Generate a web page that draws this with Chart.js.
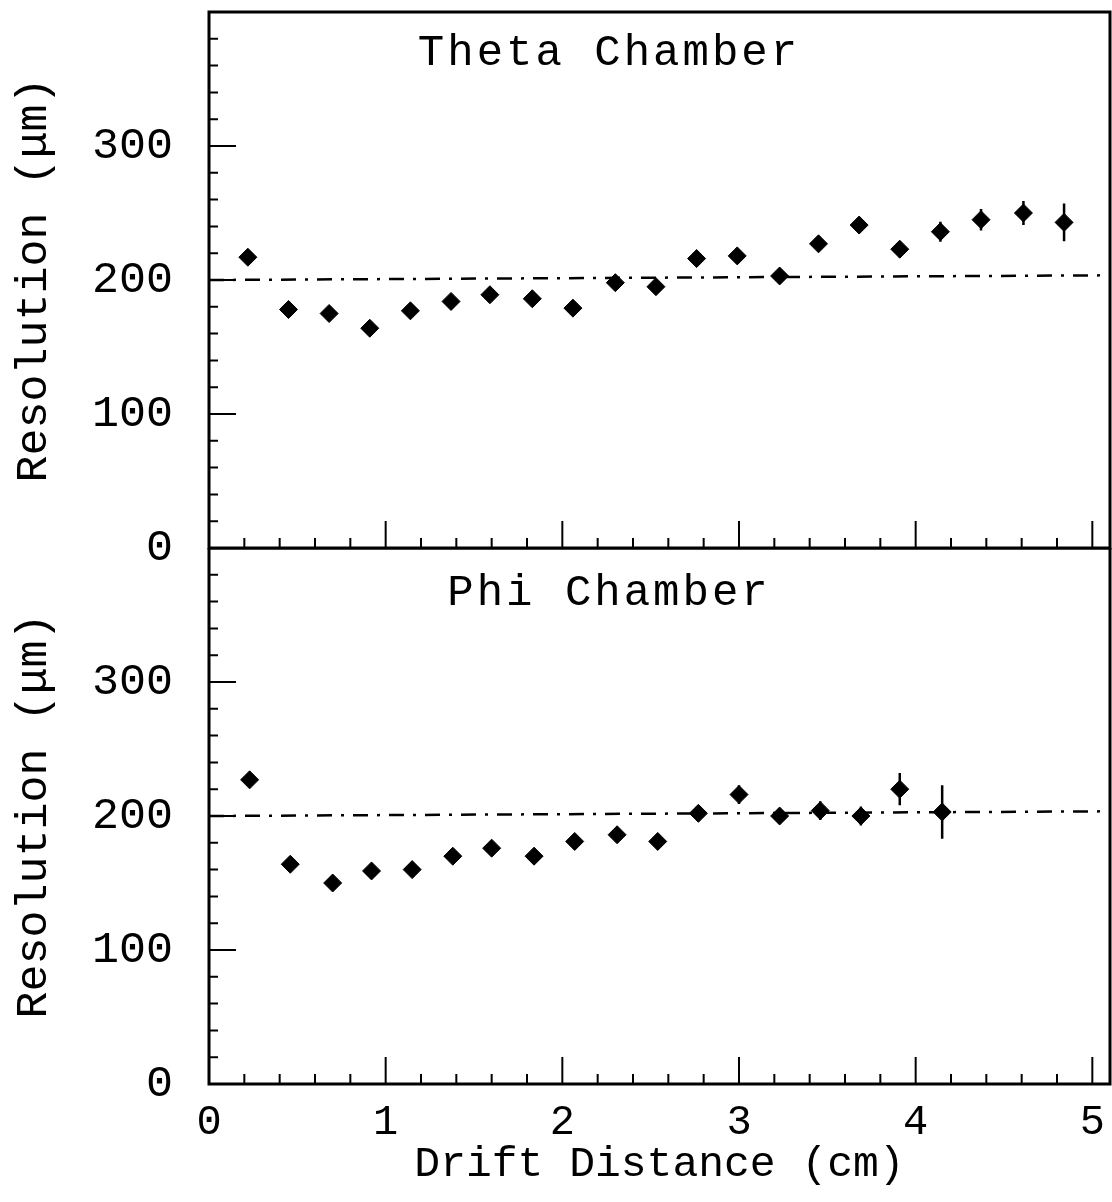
<!DOCTYPE html>
<html>
<head>
<meta charset="utf-8">
<script src="https://cdn.jsdelivr.net/npm/chart.js@4.4.1/dist/chart.umd.min.js"></script>
<style>
  html, body { margin: 0; padding: 0; background: #fff; }
  #wrap { position: relative; width: 1112px; height: 1202px; }
  #thetaChart { position: absolute; left: 0; top: 0; }
  #phiChart { position: absolute; left: 0; top: 548px; }
</style>
</head>
<body>
<div id="wrap">
  <canvas id="thetaChart" width="1112" height="580"></canvas>
  <canvas id="phiChart" width="1112" height="654"></canvas>
</div>
<script>
// axis ticks
const xTickValues = [0, 1, 2, 3, 4, 5];
const xTickLabels = ['0', '1', '2', '3', '4', '5'];
const yTickValues = [0, 100, 200, 300];
const yTickLabels = ['0', '100', '200', '300'];

// Theta chamber: drift distance (cm), resolution (um), error (um)
const thetaX = [0.22, 0.45, 0.68, 0.91, 1.14, 1.37, 1.59, 1.83, 2.06, 2.30, 2.53, 2.76, 2.99, 3.23, 3.45, 3.68, 3.91, 4.14, 4.37, 4.61, 4.84];
const thetaY = [217, 178, 175, 164, 177, 184, 189, 186, 179, 198, 195, 216, 218, 203, 227, 241, 223, 236, 245, 250, 243];
const thetaErr = [5, 5, 5, 5, 5, 5, 5, 5, 5, 5, 5, 5, 5, 5, 5, 6, 6, 7.5, 8, 9, 14];

// Phi chamber
const phiX = [0.23, 0.46, 0.70, 0.92, 1.15, 1.38, 1.60, 1.84, 2.07, 2.31, 2.54, 2.77, 3.00, 3.23, 3.46, 3.69, 3.91, 4.15];
const phiY = [227, 164, 150, 159, 160, 170, 176, 170, 181, 186, 181, 202, 216, 200, 204, 200, 220, 203];
const phiErr = [5, 5, 5, 5, 5, 5, 5, 5, 5, 5, 5, 5, 7, 5, 7, 7, 12, 20];

// dash-dot reference line
const fitX = [0, 5.1];
const thetaFitY = [200, 203.5];
const phiFitY = [200, 203.5];

Chart.defaults.font.family = "'Liberation Mono', monospace";
Chart.defaults.color = '#000';

// frame, inside ticks and the panel label
const frameTicks = {
  id: 'frameTicks',
  afterDraw(chart, args, opts) {
    const { ctx, chartArea: a } = chart;
    const x = chart.scales.x;
    const y = chart.scales.y;
    ctx.save();
    ctx.strokeStyle = '#000';
    ctx.lineWidth = 2;
    ctx.beginPath();
    for (let i = 0; i <= 25; i++) {
      const px = x.getPixelForValue(i * 0.2);
      const len = i % 5 === 0 ? 27 : 10;
      ctx.moveTo(px, a.bottom);
      ctx.lineTo(px, a.bottom - len);
    }
    for (let i = 0; i <= 20; i++) {
      const py = y.getPixelForValue(i * 20);
      const len = i % 5 === 0 ? 27 : 9;
      ctx.moveTo(a.left, py);
      ctx.lineTo(a.left + len, py);
    }
    ctx.stroke();
    ctx.lineWidth = 3;
    ctx.strokeRect(a.left, a.top, a.right - a.left, a.bottom - a.top);

    ctx.fillStyle = '#000';
    ctx.font = "44px 'Liberation Mono', monospace";
    ctx.letterSpacing = '3px';
    ctx.textAlign = 'center';
    ctx.textBaseline = 'alphabetic';
    ctx.fillText(opts.label, a.left + 400, a.top + opts.baseline);
    ctx.letterSpacing = '0px';
    ctx.restore();
  }
};

const errorBars = {
  id: 'errorBars',
  afterDatasetsDraw(chart, args, opts) {
    const { ctx } = chart;
    const y = chart.scales.y;
    const meta = chart.getDatasetMeta(0);
    const pts = chart.data.datasets[0].data;
    ctx.save();
    ctx.strokeStyle = '#000';
    ctx.lineWidth = 2.5;
    ctx.beginPath();
    meta.data.forEach((el, i) => {
      const v = pts[i].y;
      const e = opts.errors[i];
      ctx.moveTo(el.x, y.getPixelForValue(v + e));
      ctx.lineTo(el.x, y.getPixelForValue(v - e));
    });
    ctx.stroke();
    ctx.restore();
  }
};

function makePanel(id, label, baseline, xs, ys, errs, fitY, bottomAxis) {
  const points = xs.map((v, i) => ({ x: v, y: ys[i] }));
  const fit = fitX.map((v, i) => ({ x: v, y: fitY[i] }));

  return new Chart(document.getElementById(id), {
    type: 'scatter',
    data: {
      datasets: [
        {
          data: points,
          pointStyle: 'rectRot',
          pointRadius: 9,
          pointBackgroundColor: '#000',
          pointBorderColor: '#000',
          pointBorderWidth: 1,
          order: 0
        },
        {
          data: fit,
          showLine: true,
          borderColor: '#000',
          borderWidth: 2.5,
          borderDash: [15, 9, 3, 9],
          pointRadius: 0,
          order: 1
        }
      ]
    },
    options: {
      responsive: false,
      animation: false,
      devicePixelRatio: 1,
      layout: {
        autoPadding: false,
        padding: { top: bottomAxis ? 0 : 12, right: 2, left: 0, bottom: 0 }
      },
      plugins: {
        legend: { display: false },
        tooltip: { enabled: false },
        frameTicks: { label: label, baseline: baseline },
        errorBars: { errors: errs }
      },
      scales: {
        x: {
          type: 'linear',
          min: 0,
          max: 5.1,
          afterBuildTicks: (s) => { s.ticks = xTickValues.map((v) => ({ value: v })); },
          ticks: {
            display: bottomAxis,
            callback: (v) => xTickLabels[xTickValues.indexOf(v)],
            padding: 14,
            maxRotation: 0,
            font: { size: 42 }
          },
          grid: { display: false, drawTicks: false },
          border: { display: false },
          title: {
            display: bottomAxis,
            text: 'Drift Distance (cm)',
            font: { size: 43 },
            padding: { top: 0, bottom: 12 }
          },
          afterFit: (s) => {
            s.height = bottomAxis ? 118 : 32;
            s.paddingLeft = 0;
            s.paddingRight = 0;
          }
        },
        y: {
          type: 'linear',
          min: 0,
          max: 400,
          afterBuildTicks: (s) => { s.ticks = yTickValues.map((v) => ({ value: v })); },
          ticks: {
            callback: (v) => yTickLabels[yTickValues.indexOf(v)],
            padding: 36,
            font: { size: 45 }
          },
          grid: { display: false, drawTicks: false },
          border: { display: false },
          title: {
            display: true,
            text: 'Resolution (\u03bcm)',
            font: { size: 45 },
            padding: { top: 7, bottom: 0 }
          },
          afterFit: (s) => {
            s.width = 209;
            s.paddingTop = 0;
            s.paddingBottom = 0;
          }
        }
      }
    },
    plugins: [errorBars, frameTicks]
  });
}

makePanel('thetaChart', 'Theta Chamber', 53, thetaX, thetaY, thetaErr, thetaFitY, false);
makePanel('phiChart', 'Phi Chamber', 57, phiX, phiY, phiErr, phiFitY, true);
</script>
</body>
</html>
